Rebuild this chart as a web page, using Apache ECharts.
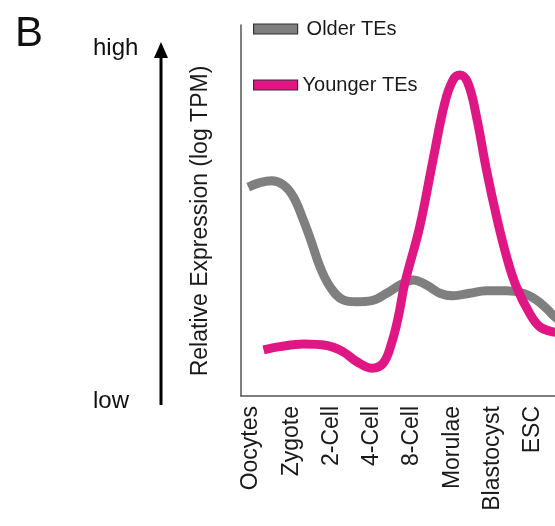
<!DOCTYPE html>
<html>
<head>
<meta charset="utf-8">
<script src="https://cdn.jsdelivr.net/npm/echarts@6/dist/echarts.min.js"></script>
<style>
html,body{margin:0;padding:0;background:#fff;}
#chart{width:555px;height:526px;}
</style>
</head>
<body>
<div id="chart"></div>
<script>
// ---- data ----
const categories = ['Oocytes', 'Zygote', '2-Cell', '4-Cell', '8-Cell', 'Morulae', 'Blastocyst', 'ESC'];
const seriesNames = ['Older TEs', 'Younger TEs'];
const axisEndLabels = ['low', 'high'];
const yAxisTitle = 'Relative Expression (log TPM)';
const panelLabel = 'B';

// x in category units (Oocytes = 0), y in relative units (0 = low, 100 = high)
const olderX = [-0.07, 0.22, 0.51, 0.80, 1.05, 1.30, 1.51, 1.71, 1.96, 2.29, 2.62, 3.00, 3.37, 3.70, 4.03, 4.36, 4.69, 5.02, 5.43, 5.85, 6.35, 6.76, 7.09, 7.34, 7.54, 7.79];
const olderY = [56.3, 57.5, 58.0, 56.9, 53.7, 47.4, 41.2, 34.9, 29.5, 25.9, 25.4, 25.7, 27.7, 29.9, 31.3, 29.9, 27.7, 27.0, 27.7, 28.4, 28.4, 27.7, 25.9, 23.6, 21.4, 19.5];

const youngerX = [0.31, 0.72, 1.30, 1.88, 2.29, 2.62, 3.00, 3.28, 3.49, 3.66, 3.82, 4.19, 4.52, 4.81, 5.02, 5.19, 5.39, 5.60, 5.85, 6.10, 6.35, 6.59, 6.92, 7.17, 7.50, 7.79];
const youngerY = [12.4, 13.3, 14.0, 13.6, 11.9, 9.3, 7.5, 8.8, 14.2, 21.4, 30.4, 45.6, 63.6, 78.9, 85.2, 86.5, 84.3, 75.3, 60.9, 48.3, 37.5, 29.5, 22.3, 18.7, 17.3, 17.0];

const colors = ['#7f7f7f', '#de1785'];
const FONT = '"Liberation Sans", Arial, Helvetica, sans-serif';

const chart = echarts.init(document.getElementById('chart'), null, {renderer: 'canvas'});

const option = {
  animation: false,
  backgroundColor: '#ffffff',
  grid: {left: 241, top: 25, right: -10, bottom: 130, containLabel: false, outerBoundsMode: 'none'},
  legend: {
    orient: 'vertical',
    left: 248,
    top: 14,
    itemGap: 36,
    itemWidth: 44,
    itemHeight: 10,
    icon: 'rect',
    textStyle: {fontFamily: FONT, fontSize: 20, color: '#1a1a1a'},
    data: [
      {name: seriesNames[0], itemStyle: {color: colors[0], borderColor: '#333', borderWidth: 1.2}, textStyle: {padding: [0, 0, 0, 4]}},
      {name: seriesNames[1], itemStyle: {color: colors[1], borderColor: '#333', borderWidth: 1.2}, textStyle: {padding: [0, 0, 0, 0]}}
    ]
  },
  xAxis: {
    type: 'value',
    min: -0.25,
    max: 7.8,
    axisLine: {show: true, onZero: false, lineStyle: {color: '#555', width: 1.5}},
    axisTick: {show: false},
    splitLine: {show: false},
    axisLabel: {
      customValues: categories.map((c, i) => i),
      formatter: v => categories[Math.round(v)] || '',
      rotate: 90,
      margin: 10,
      fontFamily: FONT,
      fontSize: 23,
      color: '#1a1a1a'
    }
  },
  yAxis: {
    type: 'value',
    min: 0,
    max: 100,
    axisLine: {show: true, onZero: false, lineStyle: {color: '#555', width: 1.5}},
    axisTick: {show: false},
    axisLabel: {show: false},
    splitLine: {show: false}
  },
  series: [
    {
      name: seriesNames[0],
      type: 'line',
      smooth: 0.4,
      showSymbol: false,
      data: olderX.map((x, i) => [x, olderY[i]]),
      lineStyle: {color: colors[0], width: 9},
      itemStyle: {color: colors[0]},
      z: 2
    },
    {
      name: seriesNames[1],
      type: 'line',
      smooth: 0.4,
      showSymbol: false,
      data: youngerX.map((x, i) => [x, youngerY[i]]),
      lineStyle: {color: colors[1], width: 9},
      itemStyle: {color: colors[1]},
      z: 3
    }
  ],
  graphic: [
    {type: 'text', left: 15, top: 13, style: {text: panelLabel, font: '42px ' + FONT, fill: '#111'}},
    {type: 'text', x: 93, y: 48, style: {text: axisEndLabels[1], font: '24px ' + FONT, fill: '#111', textVerticalAlign: 'middle'}},
    {type: 'text', x: 93, y: 401, style: {text: axisEndLabels[0], font: '24px ' + FONT, fill: '#111', textVerticalAlign: 'middle'}},
    {type: 'line', shape: {x1: 161, y1: 405, x2: 161, y2: 55}, style: {stroke: '#000', lineWidth: 3}},
    {type: 'polygon', shape: {points: [[161, 42], [154, 58], [168, 58]]}, style: {fill: '#000'}},
    {type: 'text', x: 201, y: 221, rotation: Math.PI / 2,
     style: {text: yAxisTitle, font: '23px ' + FONT, fill: '#1a1a1a', textAlign: 'center', textVerticalAlign: 'middle'}}
  ]
};
chart.setOption(option);
</script>
</body>
</html>
